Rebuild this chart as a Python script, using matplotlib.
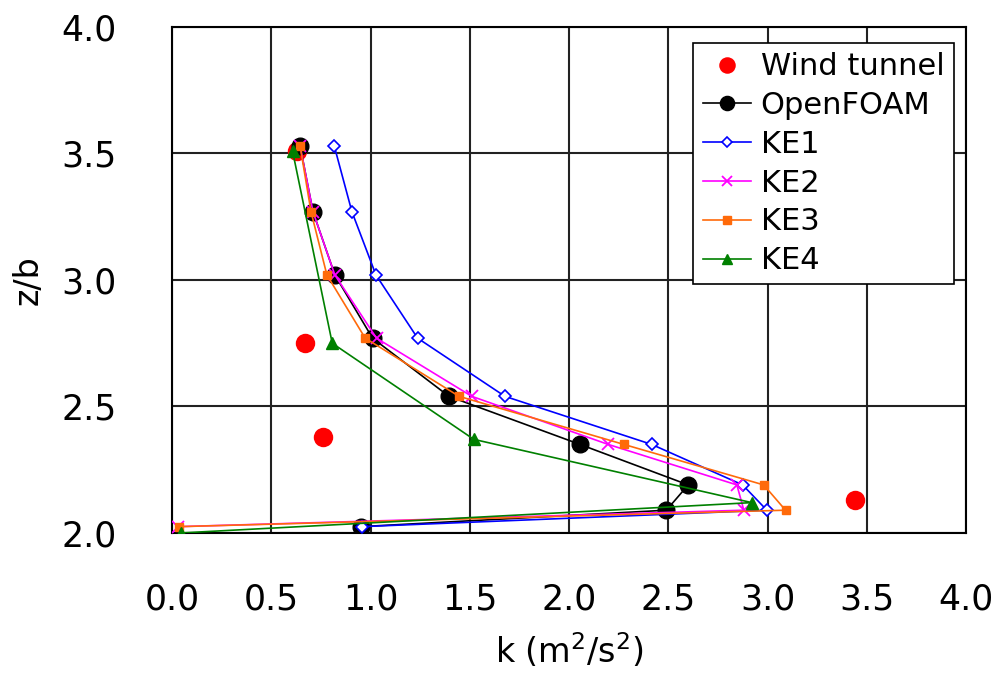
import numpy as np
import matplotlib
matplotlib.use('Agg')
import matplotlib.pyplot as plt

plt.rcParams['font.family'] = ['DejaVu Sans']
plt.rcParams['mathtext.fontset'] = 'dejavusans'

# Wind tunnel measurements
wt_k = [0.63, 0.67, 0.76, 3.44]
wt_z = [3.51, 2.75, 2.38, 2.13]

# Simulation profiles
z_sim = [3.53, 3.27, 3.02, 2.77, 2.54, 2.35, 2.19, 2.09, 2.025]
of_k = [0.645, 0.71, 0.82, 1.01, 1.395, 2.055, 2.60, 2.49, 0.95]
ke1_k = [0.817, 0.906, 1.027, 1.237, 1.677, 2.416, 2.874, 2.996, 0.955]
ke2_k = [0.645, 0.71, 0.82, 1.03, 1.51, 2.197, 2.845, 2.88, 0.03]
ke3_k = [0.645, 0.70, 0.78, 0.973, 1.446, 2.276, 2.98, 3.09, 0.036]

ke4_k = [0.607, 0.807, 1.52, 2.92, 0.043]
ke4_z = [3.51, 2.75, 2.37, 2.12, 2.0]

fig = plt.figure(figsize=(9.92, 6.78), dpi=100)
ax = fig.add_axes([0.1734, 0.2139, 0.8006, 0.7463])

lw = 1.2
ax.plot(wt_k, wt_z, 'o', color='#ff0000', ms=14, mec='none', label='Wind tunnel', zorder=3)
ax.plot(of_k, z_sim, '-o', color='black', lw=lw, ms=12, label='OpenFOAM', zorder=4)
ax.plot(ke1_k, z_sim, '-D', color='#0000ff', lw=lw, ms=6, mfc='white', mew=1.2, label='KE1', zorder=5)
ax.plot(ke2_k, z_sim, '-x', color='#ff00ff', lw=lw, ms=9, mew=1.3, label='KE2', zorder=6)
ax.plot(ke3_k, z_sim, '-s', color='#ff6a0a', lw=lw, ms=6, label='KE3', zorder=7)
ax.plot(ke4_k, ke4_z, '-^', color='#008000', lw=lw, ms=9, label='KE4', zorder=8)

ax.set_xlim(0, 4)
ax.set_ylim(2, 4)
ax.set_xticks(np.arange(0, 4.01, 0.5))
ax.set_yticks(np.arange(2, 4.01, 0.5))
ax.set_xticklabels([f'{v:.1f}' for v in np.arange(0, 4.01, 0.5)])
ax.set_yticklabels([f'{v:.1f}' for v in np.arange(2, 4.01, 0.5)])
ax.tick_params(axis='both', length=0, labelsize=25)
ax.tick_params(axis='x', pad=36)
ax.tick_params(axis='y', pad=40)
ax.grid(True, color='#222222', lw=1.5)
ax.set_axisbelow(True)
for s in ax.spines.values():
    s.set_color('black')
    s.set_linewidth(1.5)

ax.set_xlabel('k (m$^2$/s$^2$)', fontsize=24, labelpad=10)
ax.set_ylabel('z/b', fontsize=24, labelpad=12)

leg = ax.legend(loc='upper right', bbox_to_anchor=(0.984, 0.968), fontsize=22, frameon=True,
                fancybox=False, edgecolor='black', framealpha=1, borderaxespad=0,
                handlelength=1.6, labelspacing=0.32, markerscale=0.85, borderpad=0.3,
                handletextpad=0.3)
leg.get_frame().set_linewidth(1.2)

fig.savefig('out.png', dpi=100)
